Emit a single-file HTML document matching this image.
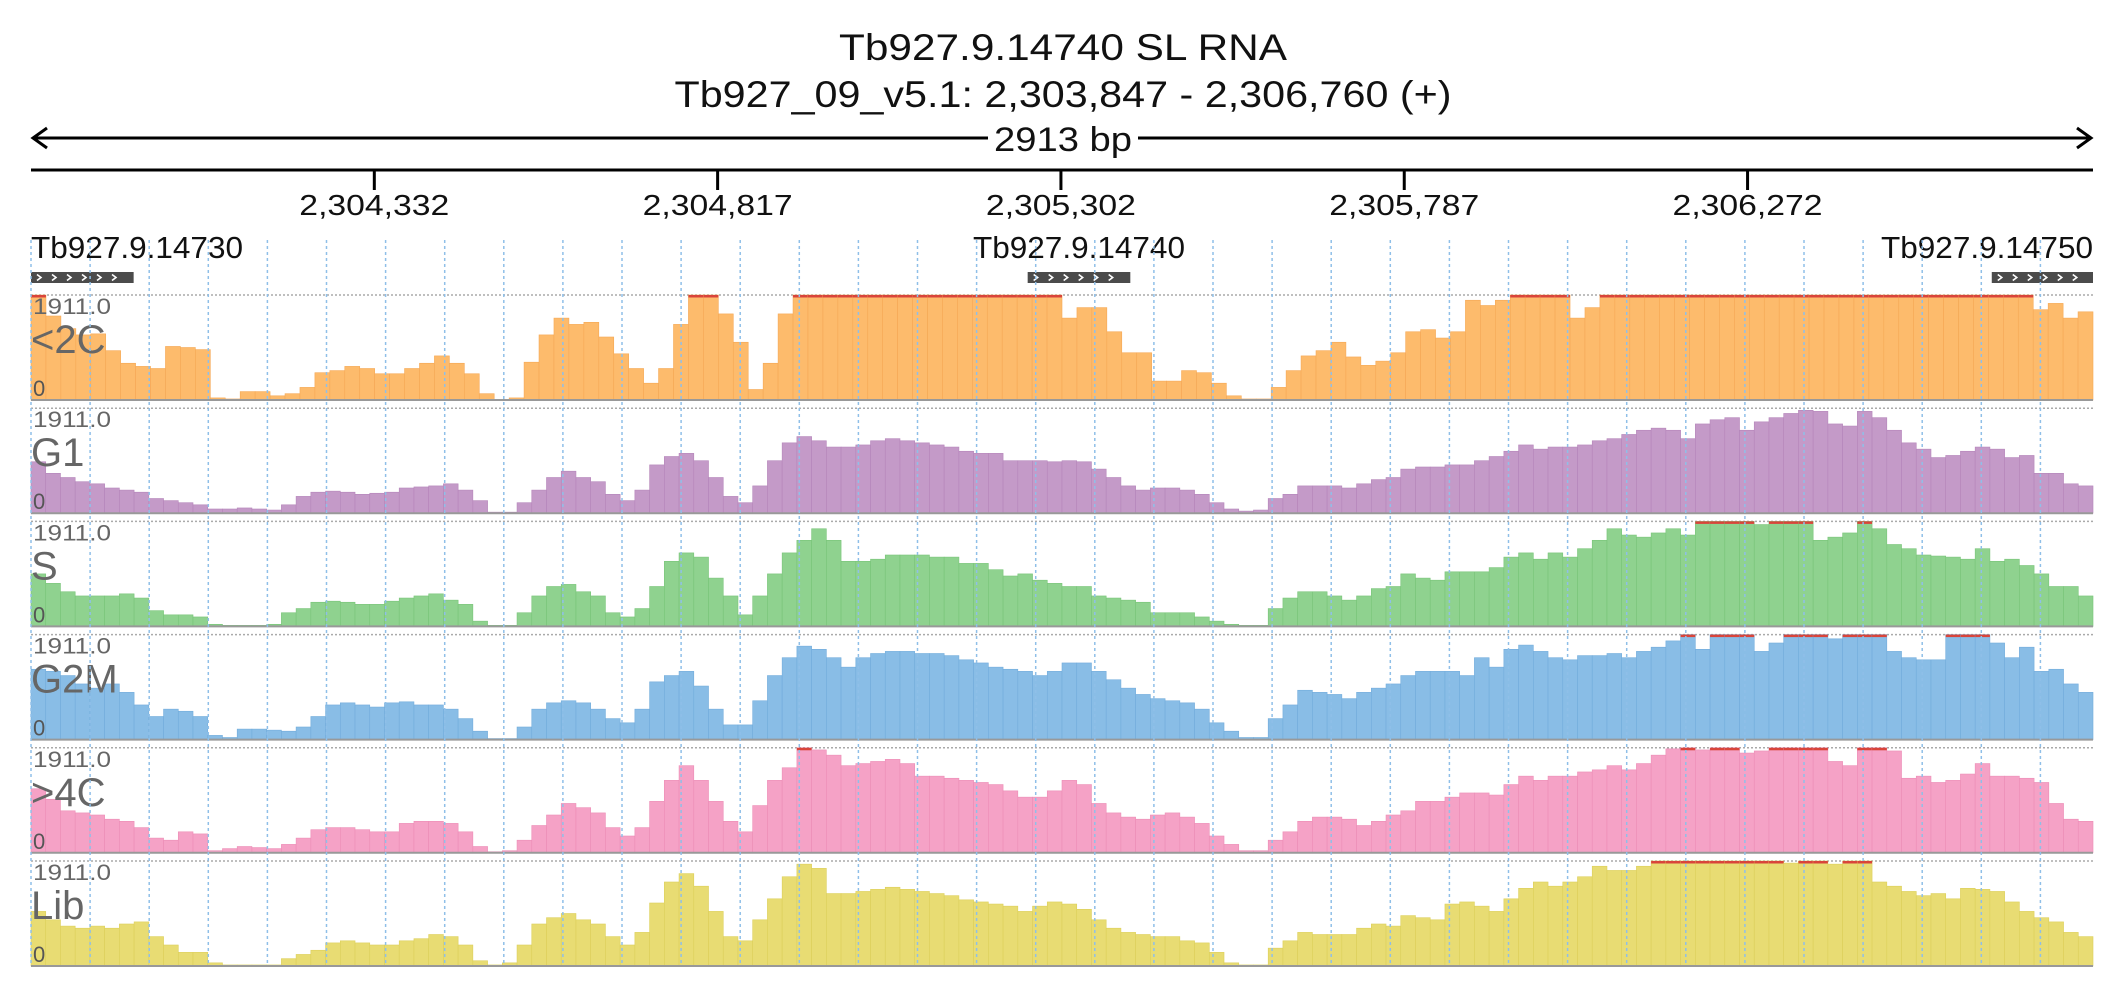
<!DOCTYPE html>
<html><head><meta charset="utf-8"><style>
html,body{margin:0;padding:0;background:#fff;}
svg{display:block;font-family:"Liberation Sans",sans-serif;}
</style></head><body>
<svg id="chart" width="2126" height="1000" viewBox="0 0 2126 1000">
<g id="header">
<text x="1063" y="60" text-anchor="middle" font-size="37" fill="#111" textLength="448" lengthAdjust="spacingAndGlyphs">Tb927.9.14740  SL RNA</text>
<text x="1063" y="107" text-anchor="middle" font-size="37" fill="#111" textLength="777" lengthAdjust="spacingAndGlyphs">Tb927_09_v5.1: 2,303,847 - 2,306,760 (+)</text>
<line x1="33" y1="138" x2="2091" y2="138" stroke="#000" stroke-width="3"/>
<polyline points="47,128 33,138 47,148" fill="none" stroke="#000" stroke-width="3"/>
<polyline points="2077,128 2091,138 2077,148" fill="none" stroke="#000" stroke-width="3"/>
<rect x="988" y="120" width="150" height="36" fill="#fff"/>
<text x="1063" y="151" text-anchor="middle" font-size="34" fill="#111" textLength="138" lengthAdjust="spacingAndGlyphs">2913 bp</text>
<line x1="31" y1="170" x2="2093" y2="170" stroke="#000" stroke-width="3"/>
<g id="ticks"></g>
<g id="genes"></g>
</g>
<g id="tracks"></g>
</svg>
<script>
const NS="http://www.w3.org/2000/svg";
const startBp=2303847, endBp=2306760;
const tickValues=[2304332,2304817,2305302,2305787,2306272];
const tickLabels=["2,304,332","2,304,817","2,305,302","2,305,787","2,306,272"];
const geneNames=["Tb927.9.14730","Tb927.9.14740","Tb927.9.14750"];
const geneStarts=[2303847,2305255,2306617];
const geneEnds=[2303992,2305400,2306760];
const trackNames=["<2C","G1","S","G2M",">4C","Lib"];
const maxValue=1911.0;
// values in percent of track max (1911.0)
const c2c=[100,80,68,62,63,47,35,32,30,51,50,48,2,1,8,8,4,6,12,26,28,32,30,25,25,30,35,42,35,25,6,0,2,36,62,78,72,74,60,44,30,16,30,72,100,100,82,55,10,35,82,100,100,100,100,100,100,100,100,100,100,100,100,100,100,100,100,100,100,78,88,88,65,45,45,18,18,28,26,16,4,1,1,12,28,42,47,55,41,33,37,45,65,67,59,65,95,90,95,100,100,100,100,78,88,100,100,100,100,100,100,100,100,100,100,100,100,100,100,100,100,100,100,100,100,100,100,100,100,100,100,100,100,100,86,92,78,84];
const g1=[49,38,34,30,28,24,22,20,14,12,10,8,4,4,5,4,3,8,16,20,21,20,18,19,20,24,25,26,28,22,12,1,1,10,22,34,40,34,30,18,12,22,46,54,57,50,34,16,10,26,50,67,73,69,63,63,65,69,71,69,67,65,63,59,57,57,50,50,50,49,50,49,42,34,26,22,24,24,22,18,10,4,2,3,14,18,26,26,26,24,28,32,34,42,44,44,46,46,50,54,59,65,61,63,63,65,69,71,75,79,81,79,71,85,89,91,79,87,91,95,98,97,85,83,97,91,79,67,61,53,55,59,63,61,53,55,38,38,28,26];
const sPhase=[50,41,33,29,29,29,31,27,15,11,11,9,2,1,1,1,2,13,17,23,24,23,21,21,24,27,29,31,25,21,5,1,1,13,29,38,40,33,29,13,9,17,38,62,70,66,46,29,11,29,50,70,82,93,82,62,62,64,68,68,68,66,66,60,60,54,48,50,44,41,38,38,29,27,25,23,13,13,13,9,5,2,1,1,17,27,33,33,29,25,29,36,38,50,46,44,52,52,52,56,66,70,64,70,66,74,82,93,87,85,89,93,87,100,100,100,100,97,100,100,100,82,85,89,100,93,78,74,68,67,66,64,74,62,64,58,50,38,38,29];
const g2m=[67,65,61,53,49,53,45,33,22,29,27,22,4,2,10,10,9,8,12,22,33,35,33,31,35,36,33,33,29,20,8,1,1,12,29,35,37,35,29,20,16,29,55,61,65,51,29,14,14,37,61,78,89,86,78,69,78,82,84,84,82,82,80,76,73,69,67,65,61,65,73,73,65,57,49,43,39,37,35,29,16,8,2,2,20,33,47,45,43,39,45,49,53,61,65,65,65,61,78,69,86,90,84,78,76,80,80,82,78,84,88,94,100,86,100,100,100,84,92,100,100,100,96,100,100,100,84,78,76,76,100,100,100,92,78,88,65,67,53,45];
const gt4c=[61,51,40,38,36,32,30,24,14,12,20,18,2,4,6,5,4,8,14,22,24,24,22,20,20,28,30,30,28,20,6,1,2,12,26,36,47,43,38,24,16,24,49,69,83,69,49,30,20,45,69,81,100,98,93,83,85,87,89,85,73,73,71,69,67,65,59,53,53,59,69,65,47,38,34,32,36,38,34,28,16,8,2,2,12,20,30,34,34,32,26,30,36,40,49,49,53,57,57,55,65,73,69,73,73,77,79,83,79,85,93,99,100,98,100,100,95,97,100,100,100,100,87,83,100,100,97,71,73,67,69,75,85,73,73,71,67,47,32,30];
const lib=[52,44,38,36,38,36,40,42,28,20,13,13,3,1,1,1,1,7,11,15,22,24,22,20,20,24,26,30,28,20,5,1,3,20,40,46,50,44,40,28,20,32,60,80,88,76,52,28,24,44,64,85,97,93,69,69,71,73,75,73,71,69,67,63,61,59,57,52,57,61,59,54,44,36,32,30,28,28,24,22,13,3,1,1,17,24,32,30,30,30,36,40,38,48,46,44,59,61,57,52,64,74,80,76,80,85,95,91,91,95,100,100,100,100,100,100,100,100,100,98,100,100,97,100,100,80,76,71,67,69,64,74,73,71,61,52,46,42,32,28];
const trackValues=[c2c,g1,sPhase,g2m,gt4c,lib];
const trackColors=["#fdbb6c","#c49ac8","#8fd28f","#89bde6","#f5a2c6","#e8dc73"];
const trackEdge=["#f5a855","#b585ba","#78c478","#72acdb","#ec8db6","#dccf5a"];

const X0=31, X1=2093;
const xBp=bp=>X0+(bp-startBp)/(endBp-startBp)*(X1-X0);
const gridStep=59.1;
const trackTop=k=>295+k*113.2, trackH=105;
const yVal=(k,v)=>trackTop(k)+trackH-Math.min(v,100)/100*trackH;

function mk(tag,attrs,parent){const e=document.createElementNS(NS,tag);for(const a in attrs)e.setAttribute(a,attrs[a]);parent.appendChild(e);return e;}

const ticksG=document.getElementById('ticks');
tickValues.forEach((t,i)=>{
  const x=xBp(t);
  const l=mk('line',{x1:x,y1:170,x2:x,y2:190,stroke:'#000','stroke-width':3},ticksG);
  
  
  const tx=mk('text',{x:x,y:215,'text-anchor':'middle','font-size':29,fill:'#111',textLength:150,lengthAdjust:'spacingAndGlyphs'},ticksG);
  
  
  tx.textContent=tickLabels[i];
});

const genesG=document.getElementById('genes');
geneNames.forEach((n,i)=>{
  const x1=xBp(geneStarts[i]), x2=xBp(geneEnds[i]);
  const g=mk('g',{},genesG);
  
  
  mk('rect',{x:x1,y:272,width:x2-x1,height:11,fill:'#4b4b4b'},g);
  const n7=Math.floor((x2-x1)/15);
  for(let j=0;j<n7;j++){const cx=x1+8+j*15;mk('polyline',{points:`${cx-2},${274.5} ${cx+2},${277.5} ${cx-2},${280.5}`,fill:'none',stroke:'#fff','stroke-width':1.6},g);}
  let anchor='middle', tx=(x1+x2)/2;
  if(i===0){anchor='start';tx=x1;} if(i===2){anchor='end';tx=x2;}
  const t=mk('text',{x:tx,y:258,'text-anchor':anchor,'font-size':31,fill:'#111',textLength:212,lengthAdjust:'spacingAndGlyphs'},g);
  
  
  t.textContent=n;
});

const tracksG=document.getElementById('tracks');
trackValues.forEach((vals,k)=>{
  const g=mk('g',{},tracksG);
  
  
  const top=trackTop(k), base=top+trackH;
  const binW=(X1-X0)/vals.length;
  mk('line',{x1:X0,y1:top,x2:X1+2,y2:top,stroke:'#aaa','stroke-width':1.5,'stroke-dasharray':'2,2'},g);
  vals.forEach((v,i)=>{
    const x=X0+i*binW;
    const y=yVal(k,v);
    const r=mk('rect',{x:x,y:y,width:binW,height:base-y,fill:trackColors[k],stroke:trackEdge[k],'stroke-width':0.6},g);
    
    
    if(v>=100){mk('rect',{x:x,y:top,width:binW,height:2.5,fill:'#d9443a'},g);}
  });
  mk('line',{x1:X0,y1:base,x2:X1,y2:base,stroke:'#999','stroke-width':2},g);
  const mx=mk('text',{x:X0+2,y:top+19,'font-size':22,fill:'#666',textLength:78,lengthAdjust:'spacingAndGlyphs'},g);
  
  
  mx.textContent=maxValue.toFixed(1);
  const nm=mk('text',{x:X0,y:top+58,'font-size':40,fill:'#666'},g);
  
  
  nm.textContent=trackNames[k];
  const z=mk('text',{x:X0+2,y:base-4,'font-size':22,fill:'#555'},g);
  
  
  z.textContent='0';
});

const gridG=mk('g',{},document.getElementById('chart'));


for(let j=0;j<=35;j++){
  const x=X0+j*gridStep; if(x>X1+5) break;
  mk('line',{x1:x,y1:240,x2:x,y2:trackTop(5)+trackH,stroke:'#8fbfe8','stroke-width':1.5,'stroke-dasharray':'3,3'},gridG);
}
</script>
</body></html>
